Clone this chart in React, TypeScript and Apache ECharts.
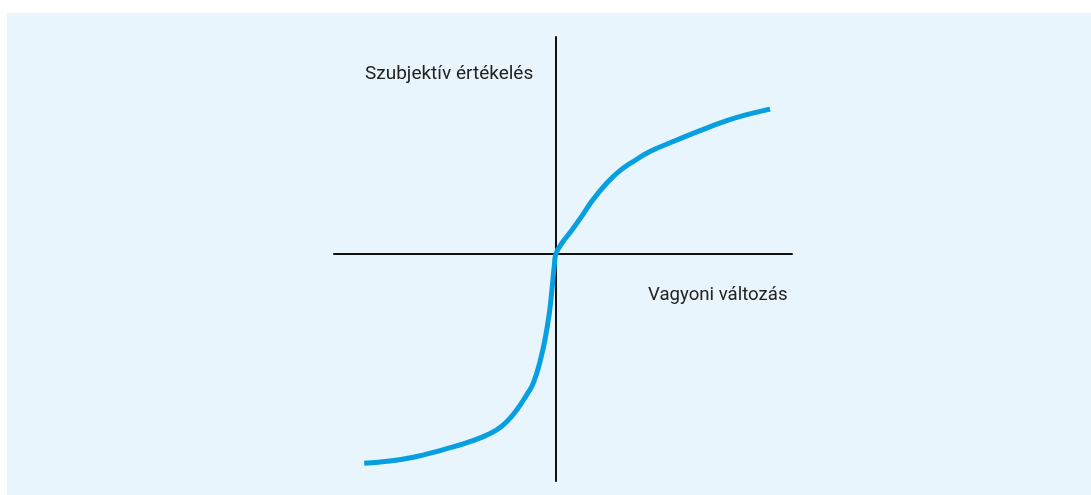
import React, { useEffect, useRef } from "react";
import * as echarts from "echarts";

// Conceptual value function (prospect theory): wealth change vs subjective value
const wealthChange = [
  -86.4, -74.8, -64.3, -52.3, -41.8, -32.7, -26.7, -22.2, -17.7, -13.2, -10.8,
  -8.8, -7.2, -5.0, -3.0, -1.7, -0.8, 0, 2.7, 7.2, 11.7, 16.2, 22.8, 28.8, 34.8,
  42.3, 52.8, 64.9, 76.9, 85.9, 96.4,
];
const subjectiveValue = [
  -94.5, -93.5, -91.8, -88.8, -85.8, -82.5, -79.5, -75.8, -70.5, -63.7, -59.7,
  -54.3, -48.7, -39.0, -26.9, -15.0, -5.9, 0, 4.7, 10.6, 16.9, 23.6, 31.6, 37.3,
  41.4, 45.9, 50.4, 55.3, 59.8, 62.5, 65.0,
];
const xLabel = "Vagyoni változás";
const yLabel = "Szubjektív értékelés";

const X_MIN = -100;
const X_MAX = 106.3;
const Y_MIN = -102.5;
const Y_MAX = 97.5;

export default function App() {
  const ref = useRef<HTMLDivElement>(null);
  useEffect(() => {
    if (!ref.current) return;
    const chart = echarts.init(ref.current, undefined, { renderer: "svg" });
    const data = wealthChange.map((x, i) => [x, subjectiveValue[i]]);
    chart.setOption({
      animation: false,
      backgroundColor: "transparent",
      graphic: [
        {
          type: "rect",
          z: -10,
          silent: true,
          shape: { x: 7, y: 13, width: 1084, height: 482 },
          style: { fill: "#e9f5fc" },
        },
        {
          type: "text",
          x: 365,
          y: 72,
          style: {
            text: yLabel,
            fill: "#222",
            font: "19px Roboto",
            verticalAlign: "middle",
            align: "left",
          },
        },
        {
          type: "text",
          x: 648,
          y: 294,
          scaleX: 0.98,
          style: {
            text: xLabel,
            fill: "#222",
            font: "19px Roboto",
            verticalAlign: "middle",
            align: "left",
          },
        },
      ],
      grid: { left: 334, right: 299, top: 37, bottom: 14 },
      xAxis: {
        type: "value",
        min: X_MIN,
        max: X_MAX,
        axisLine: { show: true, onZero: true, lineStyle: { color: "#111", width: 2 } },
        axisTick: { show: false },
        axisLabel: { show: false },
        splitLine: { show: false },
      },
      yAxis: {
        type: "value",
        min: Y_MIN,
        max: Y_MAX,
        axisLine: { show: true, onZero: true, lineStyle: { color: "#111", width: 2 } },
        axisTick: { show: false },
        axisLabel: { show: false },
        splitLine: { show: false },
      },
      series: [
        {
          type: "line",
          data,
          smooth: 0.4,
          showSymbol: false,
          lineStyle: { color: "#06a0e0", width: 5 },
          z: 5,
        },
      ],
    });
    return () => chart.dispose();
  }, []);
  return (
    <div
      ref={ref}
      style={{ position: "fixed", left: 0, top: 0, width: 1091, height: 495 }}
    />
  );
}
